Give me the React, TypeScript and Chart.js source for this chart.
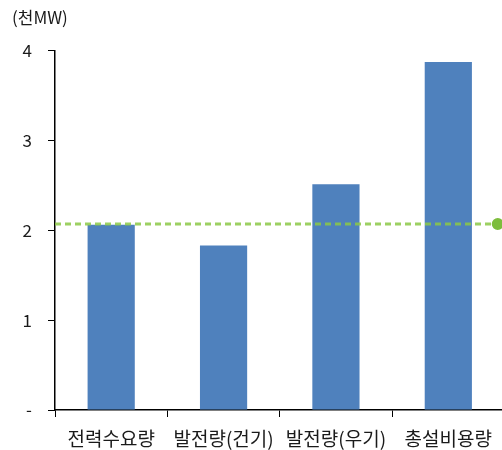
import React, { useEffect, useRef } from "react";
import { Chart, registerables } from "chart.js";

Chart.register(...registerables);

// Capacity comparison, in thousand MW
const categories = ["전력수요량", "발전량(건기)", "발전량(우기)", "총설비용량"];
const values = [2.06, 1.83, 2.51, 3.87];

// Demand reference level drawn across the plot (x runs 0..1 over the plot width)
const refLevel = 2.07;
const refLineX = [0, 0.985];

const yTicks = [0, 1, 2, 3, 4];
const unitLabel = "(천MW)";

const FONT = "'Noto Sans CJK KR', 'Noto Sans', sans-serif";

export default function App() {
  const canvasRef = useRef<HTMLCanvasElement | null>(null);

  useEffect(() => {
    const canvas = canvasRef.current;
    if (!canvas) return;
    const chart = new Chart(canvas, {
      type: "bar",
      data: {
        labels: categories,
        datasets: [
          {
            type: "line",
            label: "ref",
            data: refLineX.map((x) => ({ x, y: refLevel })),
            xAxisID: "xLine",
            borderColor: "rgba(140, 200, 70, 0.85)",
            borderWidth: 3,
            borderDash: [6, 4],
            pointRadius: refLineX.map((_, i) => (i === refLineX.length - 1 ? 4.5 : 0)),
            pointBackgroundColor: "#7dbd3c",
            pointBorderColor: "#7dbd3c",
            fill: false,
            order: 0,
          } as any,
          {
            type: "bar",
            label: "value",
            data: values,
            backgroundColor: "#4f81bd",
            categoryPercentage: 1,
            barPercentage: 0.42,
            grouped: false,
            order: 1,
          },
        ],
      },
      options: {
        responsive: false,
        animation: false,
        layout: { padding: { left: 12, right: 6, top: 0, bottom: 0 } },
        plugins: {
          legend: { display: false },
          tooltip: { enabled: false },
          title: {
            display: true,
            text: unitLabel,
            align: "start",
            color: "#1a1a1a",
            font: { family: FONT, size: 17, weight: "normal" },
            padding: { top: 7, bottom: 23 },
          },
        },
        scales: {
          x: {
            type: "category",
            offset: true,
            grid: {
              offset: true,
              drawOnChartArea: false,
              drawTicks: true,
              tickLength: 7,
              color: "#000",
            },
            border: { display: true, color: "#000", width: 1.5 },
            ticks: {
              color: "#1a1a1a",
              font: { family: FONT, size: 19 },
              padding: 10,
              maxRotation: 0,
              autoSkip: false,
            },
            afterFit: (scale: any) => {
              scale.height = 40;
            },
          },
          xLine: {
            type: "linear",
            display: false,
            offset: false,
            grid: { offset: false },
            min: 0,
            max: 1,
          },
          y: {
            min: 0,
            max: 4,
            afterBuildTicks: (scale: any) => {
              scale.ticks = yTicks.map((v) => ({ value: v }));
            },
            grid: {
              drawOnChartArea: false,
              drawTicks: true,
              tickLength: 7,
              color: "#000",
            },
            border: { display: true, color: "#000", width: 1.5 },
            ticks: {
              color: "#1a1a1a",
              font: { family: FONT, size: 17 },
              padding: 16,
              callback: (v: any) => (Number(v) === 0 ? "-" : String(v)),
            },
            afterFit: (scale: any) => {
              scale.width = 43;
            },
          },
        },
      },
    });
    return () => chart.destroy();
  }, []);

  return (
    <div
      style={{
        position: "fixed",
        left: 0,
        top: 0,
        width: 502,
        height: 450,
        overflow: "hidden",
        background: "#fff",
      }}
    >
      <canvas ref={canvasRef} width={512} height={450} style={{ display: "block" }} />
    </div>
  );
}
